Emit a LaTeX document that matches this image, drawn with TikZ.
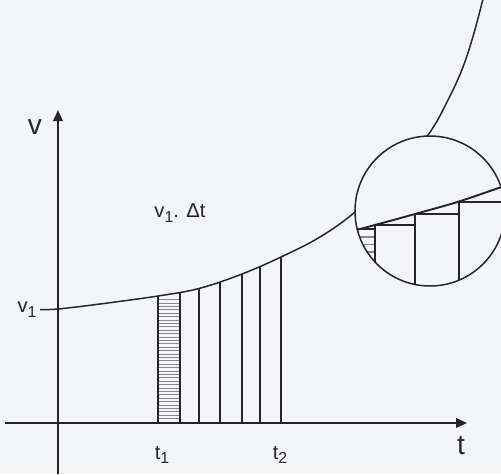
\documentclass[tikz,border=0pt]{standalone}
\usepackage{fontspec}
\setmainfont{Liberation Sans}
\usetikzlibrary{arrows.meta}
\definecolor{bg}{HTML}{F3F5F9}
\definecolor{ink}{HTML}{262626}
\newcommand\lowsub[1]{\raisebox{-0.45ex}{\fontsize{9}{9}\selectfont #1}}
\begin{document}
\begin{tikzpicture}[x=0.02cm,y=-0.02cm,
  axis/.style={line width=1.1pt,draw=ink,-{Triangle[length=2.2mm,width=1.9mm]}},
  curve/.style={line width=0.85pt,draw=ink},
  bar/.style={line width=0.8pt,draw=ink},
  zbar/.style={line width=1.1pt,draw=ink},
  hatch/.style={line width=0.3pt,draw=ink!55},
  lbl/.style={text=ink,inner sep=0pt}]
\useasboundingbox (0,0) rectangle (501,474);
\fill[bg] (0,0) rectangle (501,474);
\begin{scope}
\clip (0,0) rectangle (501,474);
% hatched strip
\foreach \y in {299.5,302.9,...,421} \draw[hatch] (158,\y) -- (180,\y);
% bars
\draw[bar] (158,296) -- (158,423);
\draw[bar] (180,293) -- (180,423);
\draw[bar] (199,288.5) -- (199,423);
\draw[bar] (220,282) -- (220,423);
\draw[bar] (242,274) -- (242,423);
\draw[bar] (260,266.5) -- (260,423);
\draw[bar] (281,257) -- (281,423);
% curve
\draw[curve] plot[smooth,tension=0.6] coordinates {(40,309.5) (58,309) (100,304) (158,296) (199,288.5) (242,274) (281,257) (320,237) (355,212) (392,176) (428,135) (448,100) (463,67) (474,33) (484,-5)};
% axes
\draw[axis] (5,423) -- (467,423);
\draw[axis] (58,474) -- (58,110);
% magnifier
\fill[bg] (430,211) circle (75);
\begin{scope}
\clip (430,211) circle (75);
\foreach \y in {237,244.5,252,259.5} \draw[hatch,line width=0.8pt] (340,\y) -- (375,\y);
\draw[zbar] (340,229) -- (375,229);
\draw[zbar] (375,225) -- (375,300);
\draw[zbar] (375,225) -- (415,225);
\draw[zbar] (415,214) -- (415,300);
\draw[zbar] (415,214) -- (459,214);
\draw[zbar] (459,202) -- (459,300);
\draw[zbar] (459,202) -- (510,202);
\draw[zbar] plot[smooth] coordinates {(345,233) (375,225) (415,214) (459,201.5) (510,184)};
\end{scope}
\draw[curve] (430,211) circle (75);
\end{scope}
% labels
\node[lbl,font=\fontsize{16}{16}\selectfont] (vlab) at (35,127) {v};
\node[lbl,font=\fontsize{16}{16}\selectfont] (tlab) at (461,446) {t};
\node[lbl,font=\fontsize{11.5}{11.5}\selectfont] (t1) at (162,455) {t\lowsub{1}};
\node[lbl,font=\fontsize{11.5}{11.5}\selectfont] (t2) at (280,455) {t\lowsub{2}};
\node[lbl,font=\fontsize{11.5}{11.5}\selectfont] (v1) at (27,310) {v\lowsub{1}};
\node[lbl,font=\fontsize{11.5}{11.5}\selectfont] (area) at (180,213) {v\lowsub{1}. Δt};
\end{tikzpicture}
\end{document}
